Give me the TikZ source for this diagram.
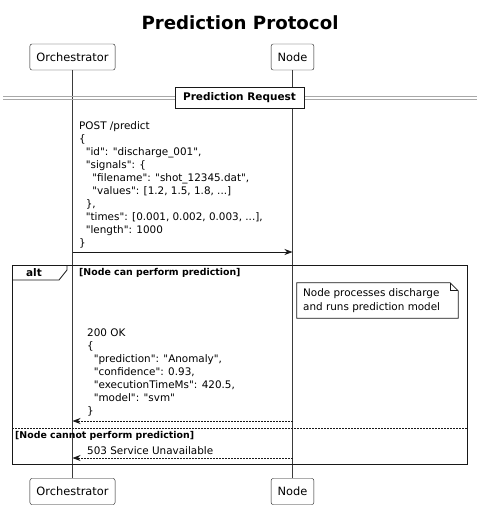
\documentclass[tikz,border=0pt]{standalone}
\usepackage{fontspec}
\setmainfont{DejaVu Sans}[Ligatures=TeXOff]
\usetikzlibrary{arrows.meta}
\definecolor{umlline}{HTML}{181818}
\definecolor{umlsep}{HTML}{A8A8A8}
\newcommand{\msgfont}{\fontsize{10.4}{13}\selectfont}
\newcommand{\guardfont}{\fontsize{9.4}{11}\selectfont\bfseries}

\begin{document}
\begin{tikzpicture}[x=1pt,y=-1pt]
    \tikzstyle{participant}=[draw=umlline,rounded corners=2pt,fill=white,
                             minimum height=26pt,inner xsep=6.5pt,
                             font=\fontsize{11.4}{13}\selectfont]
    \tikzstyle{lifeline}=[draw=umlline!85,line width=0.8pt]
    \tikzstyle{msgtext}=[anchor=north west,inner sep=0pt,align=left,font=\msgfont]
    \tikzstyle{call}=[draw=umlline,line width=0.8pt,
                      -{Stealth[length=8pt,width=6pt,inset=2.5pt]}]
    \tikzstyle{reply}=[call,dash pattern=on 1.5pt off 1.5pt]

    \useasboundingbox (0,0) rectangle (481,509);

    % Title
    \node (title) at (240,23) {\fontsize{18.2}{20}\selectfont\bfseries Prediction Protocol};

    % Participants, on top and at the bottom, with their lifelines
    \node[participant] (orchTop) at (72.5,57) {Orchestrator};
    \node[participant] (nodeTop) at (292.5,57) {Node};
    \node[participant] (orchBot) at (72.5,491.5) {Orchestrator};
    \node[participant] (nodeBot) at (292.5,491.5) {Node};
    \draw[lifeline] (orchTop) -- (orchBot);
    \draw[lifeline] (nodeTop) -- (nodeBot);

    % Divider ``Prediction Request''
    \draw[umlsep,line width=0.8pt] (3,96.3) -- (477,96.3);
    \draw[umlsep,line width=0.8pt] (3,99) -- (477,99);
    \node[draw=umlline,fill=white,minimum height=21pt,inner xsep=8pt,
          font=\fontsize{10.5}{12}\selectfont\bfseries] (divider) at (239.5,97.5)
        {Prediction Request};

    % The request
    \node[msgtext] (request) at (79,121.5) {POST /predict\\
        \{\\
        \ \ "id": "discharge\_001",\\
        \ \ "signals": \{\\
        \ \ \ \ "filename": "shot\_12345.dat",\\
        \ \ \ \ "values": [1.2, 1.5, 1.8, ...]\\
        \ \ \},\\
        \ \ "times": [0.001, 0.002, 0.003, ...],\\
        \ \ "length": 1000\\
        \}};
    \coordinate (reqFrom) at (72.5,252);
    \coordinate (reqTo) at (292.5,252);
    \draw[call] (reqFrom) -- (reqTo);

    % The alt fragment with its tab
    \draw[umlline,line width=0.9pt] (12,265) rectangle (467,464);
    \draw[umlline,line width=0.8pt] (12,280) -- (59,280) -- (67,270) -- (67,265);
    \node[font=\fontsize{10.5}{12}\selectfont\bfseries] (altLabel) at (34,272.5) {alt};
    \node[anchor=west,inner sep=0pt,font=\guardfont] (guardYes) at (79,273)
        {[Node can perform prediction]};

    % Note on the node, with a folded corner
    \node[minimum width=161pt,minimum height=35pt,inner sep=0pt] (note) at (377.5,300.5) {};
    \draw[umlline,fill=white,line width=0.7pt] (note.north west)
        -- ([xshift=-8pt]note.north east) -- ([yshift=-8pt]note.north east)
        -- (note.south east) -- (note.south west) -- cycle;
    \draw[umlline,line width=0.7pt] ([xshift=-8pt]note.north east)
        -- ([xshift=-8pt,yshift=-8pt]note.north east) -- ([yshift=-8pt]note.north east);
    \node[anchor=west,inner sep=0pt,align=left,font=\fontsize{10.4}{14}\selectfont]
        (noteText) at (303,300.5) {Node processes discharge\\and runs prediction model};

    % The answer when the node can predict
    \node[msgtext] (answer) at (87,328.5) {200 OK\\
        \{\\
        \ \ "prediction": "Anomaly",\\
        \ \ "confidence": 0.93,\\
        \ \ "executionTimeMs": 420.5,\\
        \ \ "model": "svm"\\
        \}};
    \coordinate (ansFrom) at (292.5,421);
    \coordinate (ansTo) at (72.5,421);
    \draw[reply] (ansFrom) -- (ansTo);

    % Else branch
    \draw[umlline,line width=0.8pt,dash pattern=on 1.5pt off 1.5pt] (12,428) -- (467,428);
    \node[anchor=west,inner sep=0pt,font=\guardfont] (guardNo) at (15,435.5)
        {[Node cannot perform prediction]};
    \node[anchor=west,inner sep=0pt,font=\msgfont] (failText) at (87,451)
        {503 Service Unavailable};
    \coordinate (failFrom) at (292.5,458);
    \coordinate (failTo) at (72.5,458);
    \draw[reply] (failFrom) -- (failTo);

\end{tikzpicture}
\end{document}
